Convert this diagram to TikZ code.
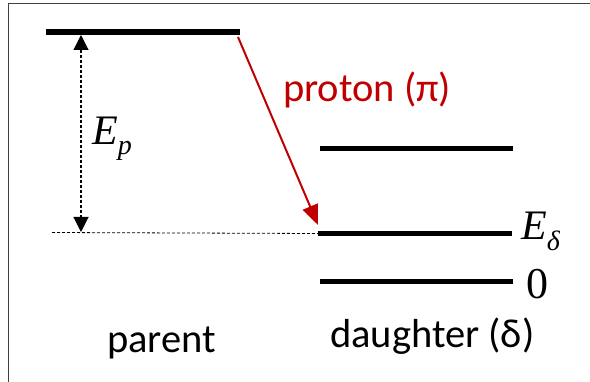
\documentclass[tikz,border=0pt]{standalone}
\usepackage{fontspec}
\setmainfont{Carlito}
\newfontfamily\timesfont{Liberation Serif}
\usetikzlibrary{arrows.meta}
\definecolor{protonred}{RGB}{192,0,0}
\definecolor{framegray}{RGB}{64,64,64}
\newcommand{\lowsub}[2]{\raisebox{#1}{\fontsize{28}{30}\selectfont #2}}

\begin{document}
\begin{tikzpicture}[x=1pt, y=1pt,
  level/.style={line width=5pt},
  gap/.style={dash pattern=on 3pt off 2pt, line width=1.1pt},
  lbl/.style={font=\fontsize{40.5}{44}\selectfont, inner sep=0pt},
  mlbl/.style={font=\timesfont\fontsize{42}{46}\selectfont, inner sep=0pt}]
  \useasboundingbox (0,0) rectangle (590,381);
  \draw[framegray, line width=1.5pt] (8.5,-10) -- (8.5,377.5) -- (600,377.5);
  % levels
  \coordinate (par-l) at (46,349);  \coordinate (par-r) at (240,349);
  \coordinate (ex-l)  at (320,232); \coordinate (ex-r)  at (513,232);
  \coordinate (dE-l)  at (318,147.5); \coordinate (dE-r) at (512,147.5);
  \coordinate (d0-l)  at (320,99.5); \coordinate (d0-r)  at (513,99.5);
  \draw[level, line width=6pt] (par-l) -- (par-r);
  \draw[level] (ex-l) -- (ex-r);
  \draw[level] (dE-l) -- (dE-r);
  \draw[level] (d0-l) -- (d0-r);
  % energy gap
  \coordinate (gap-l) at (52,148.5);
  \draw[dash pattern=on 3pt off 2pt, line width=0.8pt] (gap-l) -- (dE-l);
  \coordinate (ep-top) at (81,346);
  \coordinate (ep-bot) at (81,149);
  \draw[gap, {Triangle[length=15pt,width=15pt]}-{Triangle[length=15pt,width=15pt]}] (ep-top) -- (ep-bot);
  \node[mlbl, anchor=base west] (Ep) at (92,236) {\itshape E\lowsub{-10pt}{p}};
  % emission
  \coordinate (pi-start) at (238,344);
  \coordinate (pi-end) at (318,156);
  \draw[protonred, line width=2pt, -{Triangle[length=20pt,width=16pt]}] (pi-start) -- (pi-end);
  \node[lbl, text=protonred, anchor=base west] (proton) at (283,279) {proton (π)};
  % level labels
  \node[mlbl, anchor=base west] (Ed) at (521,141) {\itshape E\lowsub{-11pt}{δ}};
  \node[mlbl, font=\timesfont\fontsize{44}{46}\selectfont, anchor=base west] (zero) at (526,83) {0};
  \node[lbl, anchor=base west] (parent) at (107,29) {parent};
  \node[lbl, anchor=base west] (daughter) at (330,34) {daughter (δ)};
\end{tikzpicture}
\end{document}
